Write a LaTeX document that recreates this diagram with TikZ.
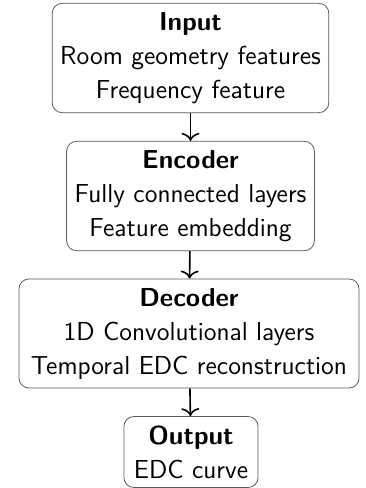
\documentclass[tikz,border=0pt]{standalone}
\usetikzlibrary{calc,arrows.meta}

\begin{document}
\begin{tikzpicture}[x=0.5pt,y=0.5pt,
    block/.style={draw=black!65, rounded corners=5pt, align=center,
        inner xsep=4pt, inner ysep=4.5pt,
        font=\sffamily\fontsize{13}{17}\selectfont},
    link/.style={-{To[length=4pt,width=9pt]}, thick}]
            \useasboundingbox (0,0) rectangle (365,-488);

            \node (input) at (190.5,-58) [block] {\textbf{Input}\\Room geometry features\\Frequency feature};
            \node (encoder) at ($(input) + (0,-138)$) [block] {\textbf{Encoder}\\Fully connected layers\\Feature embedding};
            \node (decoder) at ($(encoder) + (-1.5,-137.5)$) [block, inner xsep=6pt] {\textbf{Decoder}\\1D Convolutional layers\\Temporal EDC reconstruction};
            \node (output) at ($(decoder) + (2,-118.5)$) [block, inner xsep=5pt] {\textbf{Output}\\EDC curve};

            \draw [link] (input) -- (encoder);
            \draw [link] (encoder) -- (decoder);
            \draw [link] (decoder) -- (output);

        \end{tikzpicture}
\end{document}
